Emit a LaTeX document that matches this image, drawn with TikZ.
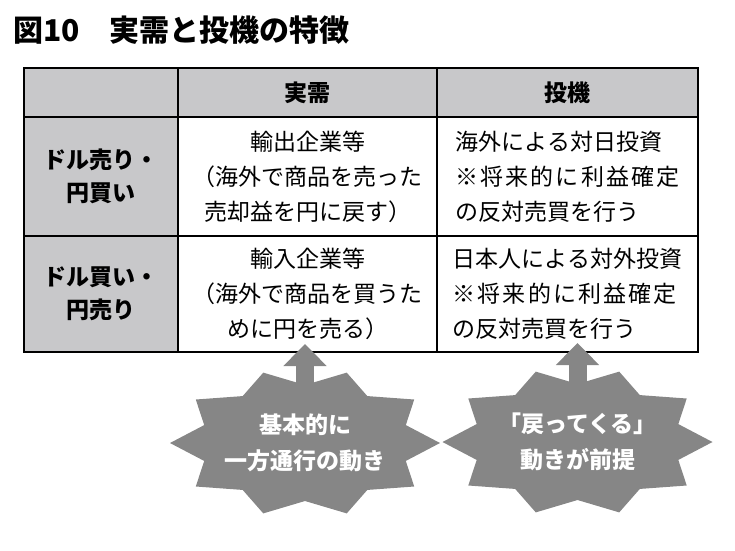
\documentclass[tikz,border=0pt]{standalone}
\usepackage{fontspec}
\setmainfont{Noto Sans CJK JP}
\usetikzlibrary{arrows.meta}
\definecolor{cellgray}{RGB}{200,200,202}
\definecolor{burstgray}{RGB}{134,134,134}

\begin{document}
\begin{tikzpicture}[x=1pt, y=-1pt,
	cell/.style={draw, line width=2pt, inner sep=0pt, align=center, font=\fontsize{23}{35}\selectfont},
	head/.style={cell, fill=cellgray, font=\fontsize{23}{33}\bfseries\selectfont},
	star/.style={fill=burstgray},
	burst/.style={text=white, align=center, inner sep=1pt, font=\fontsize{23}{36}\bfseries\selectfont},
	up/.style={burstgray, line width=18pt, -{Triangle[length=22pt, width=42pt]}}]
	\useasboundingbox (0,0) rectangle (735,550);
	\node[anchor=west, inner sep=0pt, font=\fontsize{30}{30}\bfseries\selectfont] (title) at (13,30) {図10　実需と投機の特徴};

	\node[head, minimum width=154pt, minimum height=49pt] (corner) at (101,92.5) {};
	\node[head, minimum width=259pt, minimum height=49pt] (real) at (307.5,92.5) {実需};
	\node[head, minimum width=261pt, minimum height=49pt] (spec) at (567.5,92.5) {投機};
	\node[head, minimum width=154pt, minimum height=119pt] (sell) at (101,176.5) {ドル売り・\\円買い};
	\node[cell, minimum width=259pt, minimum height=119pt] (export) at (307.5,176.5) {輸出企業等\\（海外で商品を売った\\売却益を円に戻す）};
	\node[cell, align=left, minimum width=261pt, minimum height=119pt] (inward) at (567.5,176.5) {海外による対日投資\\{\addfontfeature{LetterSpace=9}※将来的に利益確定}\\の反対売買を行う};
	\node[head, minimum width=154pt, minimum height=116pt] (buy) at (101,294) {ドル買い・\\円売り};
	\node[cell, minimum width=259pt, minimum height=116pt] (import) at (307.5,294) {輸入企業等\\（海外で商品を買うた\\めに円を売る）};
	\node[cell, align=left, minimum width=261pt, minimum height=116pt] (outward) at (567.5,294) {日本人による対外投資\\{\addfontfeature{LetterSpace=9}※将来的に利益確定}\\の反対売買を行う};

	\coordinate (cL) at (305,443);
	\coordinate (cR) at (577.5,442);
	\coordinate (tL) at (305,344);
	\coordinate (tR) at (577.5,343);
	\foreach \c in {cL, cR}
		\fill[star, shift={(\c)}] (0:135pt and 74pt) \foreach \k in {0,...,9} {-- (\k*36+18:106pt and 58pt) -- (\k*36+36:135pt and 74pt)} -- cycle;

	\node[burst] (oneway) at (cL) {基本的に\\一方通行の動き};
	\node[burst] (back) at (cR) {「戻ってくる」\\動きが前提};
	\draw[up] (oneway) -- (tL);
	\draw[up] (back) -- (tR);
\end{tikzpicture}
\end{document}
